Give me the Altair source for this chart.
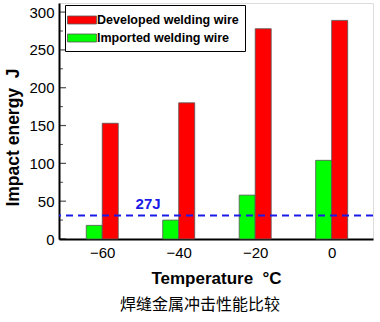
import altair as alt
import pandas as pd

temps = [-60, -40, -20, 0]
developed = [153, 180, 278, 289]
imported = [18, 25, 58, 104]
series = ["Developed welding wire", "Imported welding wire"]
colors = ["#ff0000", "#00ff00"]
ref_level = 31
ref_label = "27J"
major_ticks = [0, 50, 100, 150, 200, 250, 300]
minor_ticks = [25, 75, 125, 175, 225, 275]

rows = []
for t, d, i in zip(temps, developed, imported):
    rows.append({"T": t, "E": d, "S": series[0]})
    rows.append({"T": t, "E": i, "S": series[1]})
df = pd.DataFrame(rows)

FONT = "Liberation Sans"
NB = "\u00a0"
xscale = alt.Scale(domain=[-70, 9.5], nice=False, zero=False)
yscale = alt.Scale(domain=[0, 312], nice=False)
cscale = alt.Scale(domain=series, range=colors)

xaxis = alt.Axis(values=temps, title="Temperature" + NB + NB + "°C", tickSize=0, labelPadding=6,
                 labelFontSize=15, labelFont=FONT, labelColor="black", labelOverlap=False,
                 titleFont=FONT, titleFontSize=17, titleFontWeight="bold", titlePadding=10,
                 titleColor="black", grid=False, domainColor="black", domainWidth=2)
yaxis = alt.Axis(values=major_ticks, title="Impact energy" + NB + NB + "J", tickSize=0, labelPadding=5,
                 labelFontSize=15, labelFont=FONT, labelColor="black", labelOverlap=False,
                 titleFont=FONT, titleFontSize=17.5, titleFontWeight="bold", titlePadding=6,
                 titleY=134, titleColor="black", grid=False, domainColor="black", domainWidth=2)

base = alt.Chart(df)

green = base.transform_filter(alt.datum.S == series[1]).mark_bar(
    width=16, xOffset=-8, stroke="#555555", strokeWidth=0.8
).encode(
    x=alt.X("T:Q", scale=xscale, axis=xaxis),
    y=alt.Y("E:Q", scale=yscale, axis=yaxis),
    color=alt.Color("S:N", scale=cscale, legend=alt.Legend(
        title=None, orient="none", legendX=6, legendY=2,
        symbolType="M-1.7,-0.47L1.7,-0.47L1.7,0.47L-1.7,0.47Z", symbolSize=289,
        symbolStrokeColor="#555555", symbolStrokeWidth=0.8, symbolOffset=2,
        labelFont=FONT, labelFontSize=12.5, labelFontWeight="bold", labelColor="black",
        strokeColor="black", padding=6, rowPadding=2, labelOffset=6,
        fillColor="white")),
)
red = base.transform_filter(alt.datum.S == series[0]).mark_bar(
    width=16, xOffset=8, stroke="#555555", strokeWidth=0.8
).encode(
    x=alt.X("T:Q", scale=xscale, axis=xaxis),
    y=alt.Y("E:Q", scale=yscale, axis=yaxis),
    color=alt.Color("S:N", scale=cscale),
)

rule = alt.Chart(pd.DataFrame({"v": [ref_level]})).mark_rule(
    color="#1a1ae6", strokeDash=[7, 5], strokeWidth=2
).encode(y=alt.Y("v:Q", scale=yscale, axis=yaxis))

label = alt.Chart(pd.DataFrame({"v": [ref_level], "t": [ref_label], "x": [-48]})).mark_text(
    color="#1a1ae6", font=FONT, fontSize=15, fontWeight="bold", dy=-12
).encode(x=alt.X("x:Q", scale=xscale, axis=xaxis), y=alt.Y("v:Q", scale=yscale, axis=yaxis), text="t:N")

major = alt.Chart(pd.DataFrame({"v": major_ticks})).mark_tick(
    orient="horizontal", size=7, color="black", thickness=1.2
).encode(y=alt.Y("v:Q", scale=yscale, axis=yaxis), x=alt.value(3.5))
minor = alt.Chart(pd.DataFrame({"v": minor_ticks})).mark_tick(
    orient="horizontal", size=4, color="black", thickness=1
).encode(y=alt.Y("v:Q", scale=yscale, axis=yaxis), x=alt.value(2))

chart = alt.layer(green, red, rule, label, major, minor).properties(
    width=314, height=236,
    padding={"left": 59, "top": 3, "right": 7, "bottom": 83},
    autosize=alt.AutoSizeParams(type="none"),
    title=alt.TitleParams("焊缝金属冲击性能比较", orient="bottom", font="Noto Sans CJK SC",
                          fontSize=16, fontWeight="normal", color="black", offset=11, dx=-16),
).configure_view(stroke="black", strokeWidth=1.5).configure(background="white")

chart.save("out.html", embed_options={"renderer": "svg", "actions": False})
